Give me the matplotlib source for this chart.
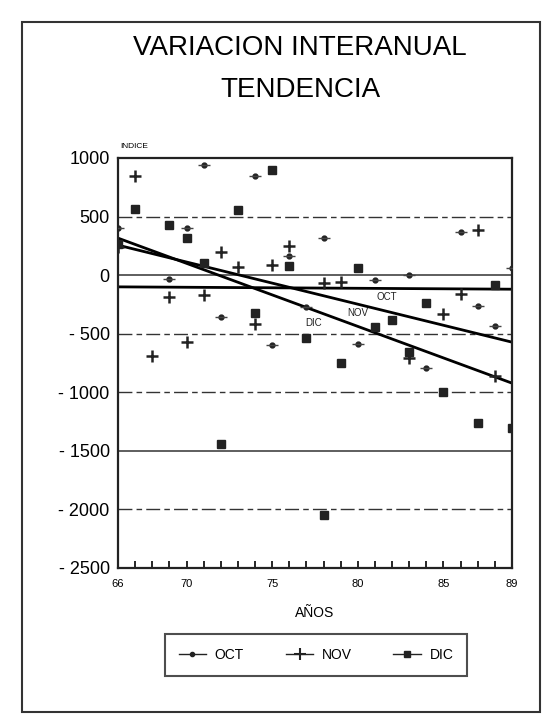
import numpy as np
import matplotlib
matplotlib.use("Agg")
import matplotlib.pyplot as plt
from matplotlib.patches import Rectangle

plt.rcParams['font.family'] = ['Liberation Sans', 'DejaVu Sans']

years = list(range(66, 90))
nan = np.nan
oct_vals = [400, nan, nan, -30, 400, 940, -360, nan, 845, -600, 160, -270,
            320, nan, -590, -40, nan, 0, -790, nan, 370, -260, -430, 60]
nov_vals = [240, 845, -690, -190, -570, -170, 200, 70, -420, 85, 250, nan,
            -70, -60, nan, nan, nan, -710, nan, -330, -160, 384, -860, nan]
dic_vals = [270, 563, nan, 427, 315, 100, -1440, 555, -325, 896, 77, -537,
            -2045, -750, 60, -443, -384, -657, -239, -1000, nan, -1262, -85, -1305]

trend_x = [66, 89]
trend_oct = [-100, -120]
trend_nov = [256, -572]
trend_dic = [316, -922]

label_pos = {"OCT": (81.7, -190), "NOV": (80.0, -325), "DIC": (77.4, -410)}

yticks = [1000, 500, 0, -500, -1000, -1500, -2000, -2500]
ytick_labels = ["1000", "500", "0", "- 500", "- 1000", "- 1500", "- 2000", "- 2500"]
xticks = [66, 70, 75, 80, 85, 89]

fig = plt.figure(figsize=(5.48, 7.21), dpi=100)
ax = fig.add_axes([118/548, 1-568/721, (512-118)/548, (568-158)/721])

# grid lines
for g in [500, -500, -1000, -2000]:
    ax.axhline(g, color='#333333', lw=1.0, dashes=(10, 3, 4, 3), zorder=1)
for g in [0, -1500]:
    ax.axhline(g, color='#333333', lw=1.1, zorder=1)

ax.plot(years, oct_vals, linestyle='none', marker='o', ms=3.5, color='#222222', zorder=3)
ax.plot(years, oct_vals, linestyle='none', marker='_', ms=8, mew=1, color='#444444', zorder=3)
ax.plot(years, nov_vals, linestyle='none', marker='+', ms=8, mew=1.8, color='#222222', zorder=3)
ax.plot(years, dic_vals, linestyle='none', marker='s', ms=6, color='#222222', zorder=3)

for tv in (trend_oct, trend_nov, trend_dic):
    ax.plot(trend_x, tv, color='black', lw=2.0, zorder=2)

for name, (lx, ly) in label_pos.items():
    ax.text(lx, ly, name, fontsize=7, ha='center', va='center', color='#222222')

ax.set_xlim(66, 89)
ax.set_ylim(-2500, 1000)
ax.set_yticks(yticks)
ax.set_yticklabels(ytick_labels, fontsize=13)
ax.set_xticks(xticks)
ax.set_xticklabels([str(x) for x in xticks], fontsize=8)
ax.set_xticks(years[1:-1], minor=True)
ax.tick_params(axis='x', which='both', direction='in', length=5, width=1.2, pad=8)
ax.tick_params(axis='y', which='both', length=0, pad=6)
for s in ax.spines.values():
    s.set_linewidth(1.6)
    s.set_color('#222222')

ax.set_xlabel("AÑOS", fontsize=10, labelpad=12)
fig.text(120/548, 1-146/721, "INDICE", fontsize=6, ha='left', va='center')

fig.text(300/548, 1-48/721, "VARIACION INTERANUAL", fontsize=20, ha='center', va='center')
fig.text(300/548, 1-90/721, "TENDENCIA", fontsize=20, ha='center', va='center')

# legend
h1, = ax.plot([], [], color='#222222', lw=1, marker='o', ms=3)
h2, = ax.plot([], [], color='#222222', lw=1, marker='+', ms=8, mew=1.5)
h3, = ax.plot([], [], color='#222222', lw=1, marker='s', ms=5)
leg = fig.legend([h1, h2, h3], ["OCT", "NOV", "DIC"], ncol=3,
                 loc='center', bbox_to_anchor=(316/548, 1-655/721),
                 fontsize=10, frameon=True, fancybox=False, edgecolor='#222222',
                 handlelength=2.0, columnspacing=3.0, borderpad=1.0, handletextpad=0.6)
leg.get_frame().set_linewidth(1.5)

# outer border
fig.patches.append(Rectangle((22/548, 1-712/721), (540-22)/548, (712-22)/721,
                             transform=fig.transFigure, fill=False, lw=1.5,
                             edgecolor='#333333'))

fig.savefig("out.png", dpi=100)
